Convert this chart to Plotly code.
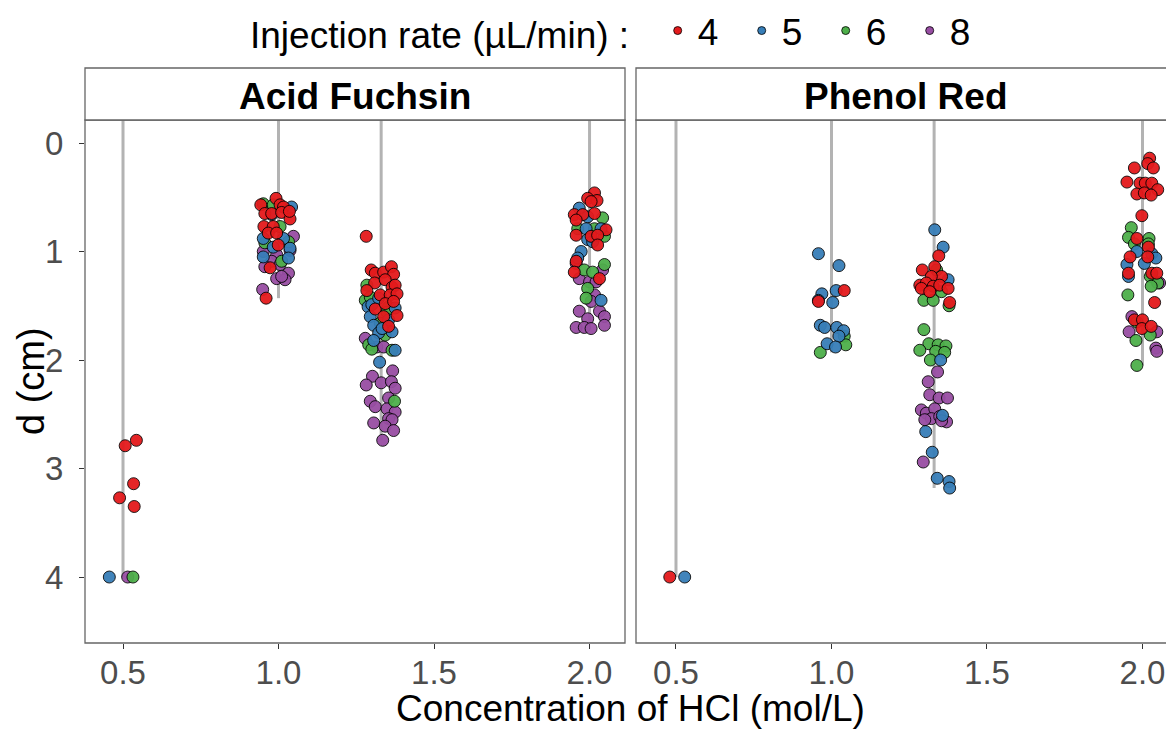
import numpy as np
import plotly.graph_objects as go

# ---------------- data ----------------
dyes = ["Acid Fuchsin", "Phenol Red"]
concentrations = [0.5, 1.0, 1.33, 2.0]
rates = [4, 5, 6, 8]
rate_colors = {4: "#E41A1C", 5: "#377EB8", 6: "#4DAF4A", 8: "#984EA3"}
x_tick_vals = [0.5, 1.0, 1.5, 2.0]
x_tick_text = ["0.5", "1.0", "1.5", "2.0"]
y_tick_vals = [0, 1, 2, 3, 4]
y_tick_text = ["0", "1", "2", "3", "4"]

# Acid Fuchsin: jittered concentration, distance d (cm), injection rate
af_x = [
    0.543, 0.507, 0.534, 0.489, 0.536, 0.456, 0.515, 0.532,
    0.992, 1.005, 0.951, 0.943, 1.042, 1.016, 0.983, 0.956, 0.978, 0.978,
    1.010, 1.037, 1.035, 0.953, 0.983, 1.005, 0.967, 0.994, 0.951, 1.016,
    1.032, 1.048, 0.956, 0.983, 0.999, 1.037, 0.951, 0.994, 1.037, 1.032,
    0.978, 1.010, 0.951, 0.956, 0.973, 1.005, 1.032, 0.994, 1.021, 1.010,
    0.949, 0.960,
    1.282, 1.298, 1.311, 1.338, 1.363, 1.370, 1.284, 1.309, 1.343, 1.365,
    1.375, 1.284, 1.327, 1.359, 1.381, 1.279, 1.288, 1.311, 1.300, 1.343,
    1.370, 1.354, 1.375, 1.295, 1.338, 1.354, 1.381, 1.327, 1.306, 1.354,
    1.365, 1.343, 1.322, 1.279, 1.306, 1.290, 1.316, 1.338, 1.300, 1.375,
    1.365, 1.325, 1.367, 1.302, 1.330, 1.363, 1.282, 1.375, 1.295, 1.311,
    1.354, 1.373, 1.349, 1.375, 1.354, 1.306, 1.365, 1.343, 1.370, 1.335,
    1.322, 1.349, 1.295, 1.333,
    2.016, 1.994, 2.024, 2.005, 1.967, 1.951, 1.978, 2.016, 1.994, 2.042,
    1.957, 1.962, 1.989, 2.016, 2.037, 2.053, 1.957, 2.005, 2.026, 2.048,
    1.994, 2.010, 2.026, 1.973, 1.962, 1.957, 1.957, 2.048, 1.983, 2.042,
    1.951, 1.967, 2.010, 2.032, 2.000, 2.021, 1.994, 2.016, 1.989, 2.037,
    2.005, 1.967, 2.032, 1.994, 2.048, 1.957, 1.983, 2.005, 2.048,
]
af_d = [
    2.74, 2.79, 3.14, 3.27, 3.35, 4.00, 4.00, 4.00,
    0.51, 0.57, 0.56, 0.57, 0.59, 0.59, 0.57, 0.65, 0.65, 0.66,
    0.64, 0.70, 0.63, 0.77, 0.77, 0.77, 0.83, 0.83, 0.88, 0.88,
    0.91, 0.86, 0.92, 0.96, 0.94, 0.97, 1.00, 1.03, 0.99, 1.06,
    1.09, 1.09, 1.05, 1.14, 1.15, 1.12, 1.20, 1.25, 1.26, 1.23,
    1.35, 1.43,
    0.86, 1.17, 1.20, 1.19, 1.14, 1.21, 1.31, 1.29, 1.26, 1.33,
    1.31, 1.36, 1.40, 1.40, 1.39, 1.45, 1.51, 1.53, 1.49, 1.48,
    1.46, 1.51, 1.52, 1.60, 1.60, 1.63, 1.59, 1.66, 1.68, 1.69,
    1.74, 1.77, 1.75, 1.80, 1.82, 1.86, 1.88, 1.88, 1.90, 1.91,
    1.91, 2.02, 2.10, 2.15, 2.21, 2.20, 2.23, 2.26, 2.38, 2.43,
    2.35, 2.38, 2.45, 2.48, 2.54, 2.58, 2.55, 2.61, 2.65, 2.74,
    1.43, 1.56, 1.42, 1.71,
    0.46, 0.51, 0.53, 0.54, 0.60, 0.66, 0.66, 0.65, 0.68, 0.69,
    0.71, 0.79, 0.79, 0.79, 0.79, 0.80, 0.85, 0.86, 0.85, 0.86,
    0.89, 0.91, 0.94, 1.00, 1.06, 1.09, 1.11, 1.12, 1.17, 1.17,
    1.19, 1.25, 1.19, 1.25, 1.28, 1.28, 1.34, 1.40, 1.43, 1.45,
    1.46, 1.55, 1.55, 1.62, 1.60, 1.70, 1.70, 1.71, 1.68,
]
af_rate = [
    4, 4, 4, 4, 4, 5, 8, 6,
    4, 4, 6, 4, 5, 4, 6, 4, 4, 5,
    4, 4, 4, 4, 4, 6, 4, 4, 5, 5,
    6, 8, 6, 5, 4, 5, 8, 8, 8, 5,
    8, 6, 5, 8, 4, 8, 8, 8, 8, 8,
    8, 4,
    4, 4, 4, 4, 4, 4, 6, 4, 4, 4,
    4, 4, 4, 4, 4, 6, 5, 4, 5, 4,
    4, 6, 5, 5, 4, 5, 4, 6, 5, 4,
    5, 6, 5, 8, 5, 6, 8, 8, 6, 5,
    6, 5, 8, 8, 8, 8, 8, 8, 8, 8,
    8, 6, 8, 8, 8, 8, 8, 8, 8, 8,
    5, 6, 6, 5,
    4, 4, 4, 4, 5, 4, 4, 4, 5, 6,
    4, 6, 5, 6, 5, 4, 4, 4, 4, 6,
    5, 5, 4, 5, 5, 4, 8, 6, 6, 8,
    4, 8, 6, 4, 8, 8, 6, 8, 6, 5,
    8, 8, 8, 8, 8, 8, 8, 8, 8,
]

# Phenol Red
pr_x = [
    0.480, 0.528,
    0.958, 1.024, 1.041, 1.015, 0.969, 0.958, 0.958, 1.004, 0.964, 0.978,
    1.017, 1.039, 1.041, 1.024, 0.986, 1.013, 1.046, 0.964,
    1.332, 1.359, 1.345, 1.292, 1.332, 1.338, 1.354, 1.321, 1.375, 1.284,
    1.305, 1.327, 1.348, 1.375, 1.354, 1.289, 1.316, 1.297, 1.327, 1.380,
    1.378, 1.297, 1.313, 1.343, 1.368, 1.284, 1.335, 1.364, 1.318, 1.351,
    1.341, 1.311, 1.316, 1.346, 1.373, 1.289, 1.305, 1.332, 1.321, 1.348,
    1.357, 1.370, 1.300, 1.354, 1.303, 1.324, 1.295, 1.340, 1.378, 1.380,
    2.023, 1.974, 2.017, 2.035, 1.950, 1.992, 2.009, 2.030, 2.049, 1.982,
    2.006, 2.028, 1.998, 1.964, 1.955, 1.982, 2.021, 1.974, 2.019, 2.019,
    1.982, 2.030, 1.960, 2.017, 2.043, 1.950, 2.006, 1.955, 1.955, 2.030,
    2.046, 2.025, 2.049, 2.028, 2.055, 1.953, 2.039, 1.974, 1.966, 2.000,
    1.998, 2.028, 1.982, 1.957, 2.046, 2.025, 1.979, 2.043, 2.046, 1.982,
]
pr_d = [
    4.00, 4.00,
    1.02, 1.13, 1.36, 1.36, 1.39, 1.46, 1.45, 1.47, 1.68, 1.70,
    1.70, 1.73, 1.78, 1.78, 1.85, 1.88, 1.86, 1.93,
    0.80, 0.96, 1.04, 1.17, 1.14, 1.17, 1.23, 1.23, 1.26, 1.31,
    1.29, 1.32, 1.31, 1.34, 1.37, 1.34, 1.37, 1.45, 1.45, 1.47,
    1.50, 1.72, 1.85, 1.86, 1.87, 1.91, 1.92, 1.93, 2.00, 2.00,
    2.11, 2.20, 2.32, 2.35, 2.35, 2.46, 2.49, 2.45, 2.54, 2.52,
    2.51, 2.57, 2.55, 2.56, 2.66, 2.85, 2.94, 3.09, 3.12, 3.18,
    0.14, 0.23, 0.19, 0.23, 0.36, 0.37, 0.37, 0.37, 0.43, 0.47,
    0.46, 0.48, 0.67, 0.78, 0.87, 0.88, 0.88, 0.93, 0.93, 0.96,
    1.00, 1.02, 1.05, 1.05, 1.06, 1.12, 1.11, 1.20, 1.23, 1.20,
    1.20, 1.23, 1.29, 1.32, 1.29, 1.40, 1.47, 1.63, 1.60, 1.63,
    1.71, 1.69, 1.65, 1.74, 1.74, 1.77, 1.82, 1.89, 1.92, 2.05,
]
pr_rate = [
    4, 5,
    5, 5, 4, 5, 5, 4, 5, 5, 5, 5,
    5, 5, 6, 5, 5, 5, 6, 6,
    5, 5, 4, 4, 4, 6, 4, 4, 5, 4,
    4, 4, 4, 4, 6, 4, 4, 6, 6, 4,
    6, 6, 6, 6, 6, 6, 6, 6, 6, 5,
    8, 8, 8, 8, 8, 8, 8, 8, 8, 8,
    5, 8, 8, 8, 5, 5, 8, 5, 5, 5,
    4, 4, 4, 4, 4, 4, 4, 4, 4, 4,
    4, 4, 4, 6, 6, 4, 6, 6, 6, 4,
    5, 5, 4, 4, 5, 5, 5, 4, 5, 4,
    4, 6, 6, 6, 8, 6, 4, 4, 8, 4,
    4, 4, 6, 8, 8, 6, 6, 8, 8, 6,
]

assert len(af_x) == len(af_d) == len(af_rate)
assert len(pr_x) == len(pr_d) == len(pr_rate)

panel_data = {
    "Acid Fuchsin": (np.array(af_x), np.array(af_d), np.array(af_rate)),
    "Phenol Red": (np.array(pr_x), np.array(pr_d), np.array(pr_rate)),
}

# ---------------- layout geometry ----------------
W, H = 1166, 729
ML, MR, MT, MB = 85, 0, 68, 86
plot_w = W - ML - MR
plot_h = H - MT - MB
panel_top_frac = (643 - 120) / plot_h
x_domains = [[0, 540 / plot_w], [551 / plot_w, 1.0]]
x_ranges = [[0.3778, 2.114], [0.3714, 2.0756]]
y_range = [4.608, -0.212]

FONT = "Liberation Sans, Arial, sans-serif"
BORDER = "#666666"

fig = go.Figure()

for i, dye in enumerate(dyes):
    xa = "x" if i == 0 else "x2"
    ya = "y" if i == 0 else "y2"
    px_, pd_, pr_ = panel_data[dye]
    # vertical grey lines from the panel top down to the deepest point of each group
    conc_arr = np.array(concentrations)
    nearest = conc_arr[np.argmin(np.abs(px_[:, None] - conc_arr[None, :]), axis=1)]
    lx, ly = [], []
    for c in concentrations:
        sel = pd_[np.isclose(nearest, c)]
        if sel.size:
            lx += [c, c, None]
            ly += [y_range[1], float(sel.max()), None]
    fig.add_trace(go.Scatter(x=lx, y=ly, mode="lines", xaxis=xa, yaxis=ya,
                             line=dict(color="#B3B3B3", width=3),
                             hoverinfo="skip", showlegend=False))
    for r in [8, 6, 5, 4]:
        m = pr_ == r
        fig.add_trace(go.Scatter(
            x=px_[m], y=pd_[m], mode="markers", xaxis=xa, yaxis=ya,
            marker=dict(size=12, color=rate_colors[r], opacity=0.95,
                        line=dict(color="black", width=0.9)),
            name=str(r), legendgroup=str(r), showlegend=False,
        ))

# legend-only entries
for r in rates:
    fig.add_trace(go.Scatter(
        x=[None], y=[None], mode="markers",
        marker=dict(size=8, color=rate_colors[r], line=dict(color="black", width=0.8)),
        name=str(r), legendgroup=str(r), showlegend=True,
    ))

axis_common = dict(
    showgrid=False, zeroline=False, showline=False,
    ticks="outside", ticklen=5, tickwidth=1, tickcolor="#333333",
    tickfont=dict(family=FONT, size=33, color="#4D4D4D"),
)

fig.update_layout(
    width=W, height=H,
    margin=dict(l=ML, r=MR, t=MT, b=MB),
    paper_bgcolor="white", plot_bgcolor="white",
    font=dict(family=FONT, color="black"),
    xaxis=dict(domain=x_domains[0], range=x_ranges[0], anchor="y",
               tickvals=x_tick_vals, ticktext=x_tick_text,
               ticklabelstandoff=-5, **axis_common),
    xaxis2=dict(domain=x_domains[1], range=x_ranges[1], anchor="y2",
                tickvals=x_tick_vals, ticktext=x_tick_text,
                ticklabelstandoff=-5, **axis_common),
    yaxis=dict(domain=[0, panel_top_frac], range=y_range, anchor="x",
               tickvals=y_tick_vals, ticktext=y_tick_text,
               ticklabelstandoff=9, **axis_common),
    yaxis2=dict(domain=[0, panel_top_frac], range=y_range, anchor="x2",
                matches="y", showticklabels=False, ticks="",
                showgrid=False, zeroline=False, showline=False),
    legend=dict(
        orientation="h", x=(248 - ML) / plot_w, xanchor="left",
        y=(643 - 31) / plot_h, yanchor="middle",
        title=dict(text="Injection rate (µL/min) :\u00a0\u00a0", side="left",
                   font=dict(family=FONT, size=37, color="black")),
        font=dict(family=FONT, size=37, color="black"),
        entrywidth=39, entrywidthmode="pixels",
        bgcolor="rgba(0,0,0,0)", borderwidth=0,
    ),
    showlegend=True,
)

shapes = []
strip_top = (643 - 68) / plot_h
for i, dye in enumerate(dyes):
    x0, x1 = x_domains[i]
    if i == 1:
        x1 = 1.02
    shapes.append(dict(type="rect", xref="paper", yref="paper",
                       x0=x0, x1=x1, y0=0, y1=panel_top_frac,
                       line=dict(color=BORDER, width=1.3), fillcolor="rgba(0,0,0,0)", layer="above"))
    shapes.append(dict(type="rect", xref="paper", yref="paper",
                       x0=x0, x1=x1, y0=panel_top_frac, y1=strip_top,
                       line=dict(color=BORDER, width=1.3), fillcolor="white", layer="above"))
fig.update_layout(shapes=shapes)

annotations = []
strip_centers = [(85 + 625) / 2, (636 + 1176) / 2]
for i, dye in enumerate(dyes):
    annotations.append(dict(
        text="<b>%s</b>" % dye, xref="paper", yref="paper",
        x=(strip_centers[i] - ML) / plot_w, y=(643 - 96) / plot_h,
        xanchor="center", yanchor="middle", showarrow=False,
        font=dict(family=FONT, size=37, color="black"),
    ))
annotations.append(dict(
    text="Concentration of HCl (mol/L)", xref="paper", yref="paper",
    x=(630 - ML) / plot_w, y=(643 - 708) / plot_h,
    xanchor="center", yanchor="middle", showarrow=False,
    font=dict(family=FONT, size=37, color="black"),
))
annotations.append(dict(
    text="d (cm)", xref="paper", yref="paper",
    x=(31 - ML) / plot_w, y=(643 - 381) / plot_h,
    xanchor="center", yanchor="middle", showarrow=False, textangle=-90,
    font=dict(family=FONT, size=38, color="black"),
))
fig.update_layout(annotations=annotations)

fig.write_html("out.html")
